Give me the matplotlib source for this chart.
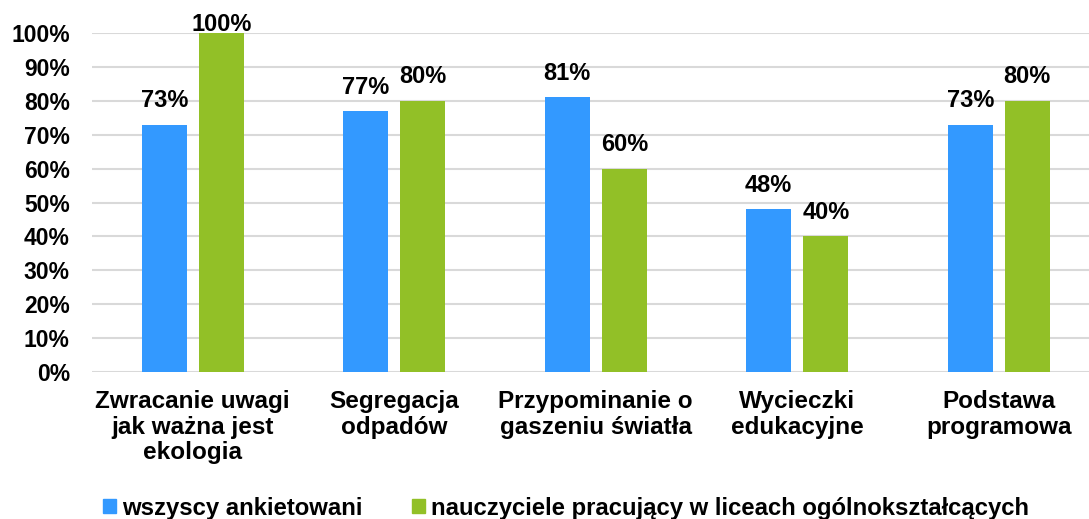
import matplotlib
import numpy as np

matplotlib.use("Agg")
import matplotlib.pyplot as plt  # noqa: E402
from matplotlib.patches import Patch  # noqa: E402

categories = [
    "Zwracanie uwagi\njak ważna jest\nekologia",
    "Segregacja\nodpadów",
    "Przypominanie o\ngaszeniu światła",
    "Wycieczki\nedukacyjne",
    "Podstawa\nprogramowa",
]
all_respondents = [73, 77, 81, 48, 73]
lyceum_teachers = [100, 80, 60, 40, 80]
series_names = [
    "wszyscy ankietowani",
    "nauczyciele pracujący w liceach ogólnokształcących",
]
y_ticks = list(range(0, 101, 10))

BLUE = "#3399FF"
GREEN = "#92C027"

plt.rcParams["font.family"] = ["Liberation Sans", "DejaVu Sans"]
plt.rcParams["font.weight"] = "bold"

fig = plt.figure(figsize=(10.89, 5.19), dpi=100)
ax = fig.add_axes([92 / 1089, 1 - 372 / 519, 1007.5 / 1089, 339 / 519])

x = np.arange(len(categories))
width = 0.223
offset = 0.1415

bars_a = ax.bar(x - offset, all_respondents, width, color=BLUE, zorder=3)
bars_b = ax.bar(x + offset, lyceum_teachers, width, color=GREEN, zorder=3)

y_max = 100
for bars in (bars_a, bars_b):
    for bar in bars:
        h = bar.get_height()
        # labels on full-height bars sit tight against the top so they stay in view
        lift = 1.5 if h >= y_max else 12.5
        ax.annotate(f"{h:.0f}%", (bar.get_x() + bar.get_width() / 2, h),
                    xytext=(0, lift), textcoords="offset points",
                    ha="center", va="baseline", fontsize=17, fontweight="bold",
                    clip_on=False)

ax.set_xlim(-0.5, len(categories) - 0.5)
ax.set_ylim(0, y_max)
ax.set_yticks(y_ticks)
ax.set_yticklabels([f"{t}%" for t in y_ticks], fontsize=16.5, fontweight="bold")
ax.set_xticks(x)
ax.set_xticklabels(categories, fontsize=17.5, fontweight="bold", linespacing=1.15)
ax.tick_params(axis="y", length=0, pad=16)
ax.tick_params(axis="x", length=0, pad=13)
ax.grid(axis="y", color="#D9D9D9", linewidth=1.5, zorder=0)
ax.set_axisbelow(True)
for side in ("left", "right", "top", "bottom"):
    ax.spines[side].set_visible(False)

handles = [Patch(color=BLUE), Patch(color=GREEN)]
fig.legend(handles, series_names, loc="center", bbox_to_anchor=(566 / 1089, 1 - 508 / 519),
           ncol=2, frameon=False, handlelength=0.55, handleheight=0.55,
           handletextpad=0.25, columnspacing=2.1, prop={"weight": "bold", "size": 17.2})

fig.savefig("out.png", dpi=100)
